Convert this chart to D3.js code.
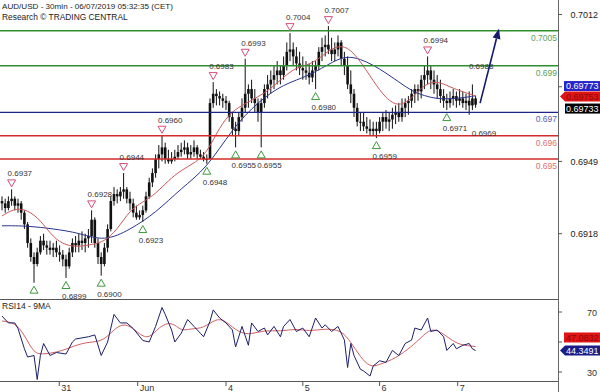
<!DOCTYPE html>
<html>
<head>
<meta charset="utf-8">
<script src="https://cdn.jsdelivr.net/npm/d3@7"></script>
<style>
  body { margin: 0; background: #fff; }
  svg { display: block; font-family: "Liberation Sans", Arial, sans-serif; }
</style>
</head>
<body>
<script>
// ---- data (hourly-ish bars) ----
const firstOpen = 0.6932;
const highs = [
  0.6934,0.6933,0.6934,0.6937,0.6934,0.6933,0.6932,0.6928,0.6923,0.6916,
  0.6910,0.6912,0.6917,0.6918,0.6915,0.6915,0.6914,0.6915,0.6913,0.6911,
  0.6909,0.6912,0.6916,0.6917,0.6918,0.6919,0.6918,0.6920,0.6928,0.6925,
  0.6916,0.6910,0.6914,0.6922,0.6934,0.6938,0.6937,0.6938,0.6944,0.6938,
  0.6936,0.6933,0.6930,0.6928,0.6930,0.6936,0.6942,0.6946,0.6952,0.6956,
  0.6960,0.6957,0.6954,0.6953,0.6954,0.6956,0.6957,0.6958,0.6957,0.6956,
  0.6958,0.6956,0.6954,0.6953,0.6952,0.6976,0.6983,0.6980,0.6979,0.6978,
  0.6977,0.6975,0.6970,0.6966,0.6970,0.6976,0.6993,0.6982,0.6984,0.6980,
  0.6976,0.6976,0.6982,0.6986,0.6988,0.6990,0.6992,0.6990,0.6994,0.7000,
  0.7004,0.7000,0.6998,0.6996,0.6994,0.6992,0.6991,0.6992,0.6992,0.6998,
  0.7002,0.7003,0.7007,0.7002,0.7000,0.7003,0.7001,0.6996,0.6994,0.6988,
  0.6980,0.6974,0.6970,0.6970,0.6968,0.6967,0.6966,0.6966,0.6968,0.6970,
  0.6971,0.6970,0.6972,0.6973,0.6974,0.6976,0.6976,0.6977,0.6980,0.6982,
  0.6982,0.6986,0.6990,0.6994,0.6990,0.6988,0.6986,0.6984,0.6980,0.6978,
  0.6979,0.6980,0.6979,0.6980,0.6979,0.6978,0.6979,0.6982,0.6977
];
const lows = [
  0.6928,0.6927,0.6928,0.6930,0.6928,0.6927,0.6924,0.6920,0.6912,0.6906,
  0.6897,0.6904,0.6909,0.6911,0.6909,0.6909,0.6908,0.6908,0.6906,0.6904,
  0.6899,0.6903,0.6908,0.6910,0.6910,0.6911,0.6910,0.6912,0.6914,0.6912,
  0.6905,0.6900,0.6904,0.6910,0.6919,0.6930,0.6931,0.6932,0.6933,0.6931,
  0.6928,0.6925,0.6924,0.6924,0.6923,0.6927,0.6933,0.6938,0.6942,0.6946,
  0.6949,0.6948,0.6948,0.6948,0.6949,0.6950,0.6951,0.6952,0.6950,0.6950,
  0.6951,0.6950,0.6950,0.6949,0.6948,0.6950,0.6972,0.6973,0.6973,0.6972,
  0.6971,0.6966,0.6960,0.6955,0.6960,0.6966,0.6970,0.6972,0.6974,0.6970,
  0.6966,0.6955,0.6972,0.6976,0.6978,0.6980,0.6982,0.6982,0.6984,0.6988,
  0.6992,0.6990,0.6988,0.6986,0.6984,0.6984,0.6982,0.6983,0.6980,0.6988,
  0.6992,0.6994,0.6995,0.6992,0.6992,0.6994,0.6990,0.6986,0.6980,0.6974,
  0.6968,0.6964,0.6962,0.6962,0.6961,0.6960,0.6960,0.6959,0.6961,0.6962,
  0.6963,0.6962,0.6963,0.6965,0.6966,0.6966,0.6968,0.6969,0.6972,0.6974,
  0.6975,0.6976,0.6980,0.6982,0.6980,0.6978,0.6976,0.6974,0.6972,0.6971,
  0.6972,0.6973,0.6972,0.6973,0.6972,0.6971,0.6969,0.6971,0.6972
];
const closes = [
  0.6931,0.6929,0.6932,0.6933,0.6930,0.6931,0.6927,0.6922,0.6914,0.6908,
  0.6905,0.6910,0.6915,0.6913,0.6912,0.6911,0.6912,0.6910,0.6909,0.6907,
  0.6904,0.6910,0.6914,0.6913,0.6915,0.6914,0.6916,0.6917,0.6924,0.6914,
  0.6908,0.6905,0.6912,0.6920,0.6932,0.6935,0.6934,0.6936,0.6937,0.6933,
  0.6931,0.6927,0.6925,0.6926,0.6928,0.6934,0.6940,0.6944,0.6950,0.6952,
  0.6955,0.6950,0.6949,0.6950,0.6951,0.6953,0.6954,0.6955,0.6952,0.6953,
  0.6955,0.6952,0.6951,0.6950,0.6950,0.6974,0.6978,0.6977,0.6976,0.6975,
  0.6974,0.6968,0.6963,0.6962,0.6968,0.6972,0.6978,0.6980,0.6976,0.6974,
  0.6970,0.6974,0.6980,0.6982,0.6984,0.6986,0.6988,0.6986,0.6990,0.6996,
  0.6997,0.6994,0.6991,0.6989,0.6988,0.6987,0.6985,0.6988,0.6990,0.6996,
  0.6998,0.6999,0.6997,0.6995,0.6997,0.7000,0.6993,0.6990,0.6982,0.6978,
  0.6972,0.6966,0.6966,0.6964,0.6963,0.6962,0.6963,0.6962,0.6966,0.6968,
  0.6966,0.6967,0.6969,0.6970,0.6968,0.6972,0.6974,0.6975,0.6978,0.6980,
  0.6979,0.6984,0.6986,0.6988,0.6984,0.6982,0.6980,0.6977,0.6975,0.6974,
  0.6976,0.6977,0.6975,0.6976,0.6974,0.6975,0.6973,0.6976,0.69733
];

// moving averages (bar index, value)
const redMA = [
  [0,0.69256],[4,0.6929],[8,0.69282],[12,0.69239],[16,0.69163],[20,0.69129],[24,0.69124],
  [28,0.69133],[32,0.69146],[36,0.69197],[40,0.69282],[44,0.69316],[48,0.6935],[52,0.69409],
  [56,0.69452],[60,0.69482],[64,0.69524],[68,0.69639],[72,0.69707],[76,0.69737],[80,0.69767],
  [84,0.69801],[88,0.69852],[92,0.69894],[96,0.69903],[100,0.69941],[104,0.69984],[108,0.69984],
  [112,0.6992],[116,0.69835],[120,0.69758],[124,0.69724],[128,0.69758],[132,0.69822],
  [136,0.69835],[140,0.69809],[144,0.69788],[148,0.69771]
];
const blueMA = [
  [0,0.69214],[8,0.69214],[16,0.69201],[24,0.69184],[32,0.69146],[40,0.69197],[48,0.69269],
  [56,0.69375],[64,0.6946],[72,0.69631],[80,0.69746],[88,0.69822],[96,0.69856],[104,0.69924],
  [108,0.69941],[112,0.69929],[116,0.69903],[120,0.69869],[124,0.69831],[128,0.69792],
  [132,0.69771],[136,0.69758],[140,0.69758],[144,0.69763],[148,0.69771]
];

// RSI14 and its 9MA (bar index, value)
const rsi = [
  [0,67.3],[2,62.7],[4,62.7],[5,59],[7,45.5],[8,40],[10,41],[11,25],[12,41],[13,49],[15,41],
  [17,43],[20,42],[22,50],[23,52],[27,53.5],[29,54.7],[31,41],[33,50],[35,68.4],[37,62.7],
  [39,62.7],[41,59],[44,51],[46,50],[48,60.4],[50,73],[51,68.4],[53,58],[54,50],[56,55.8],
  [58,65],[60,60.4],[62,55.8],[63,53.5],[65,63.8],[66,71.4],[68,66],[70,62.7],[72,58],
  [73,46.7],[75,60.4],[77,47.8],[78,62.7],[80,57],[82,59.3],[83,54.7],[85,60.4],[87,53.5],
  [88,60.4],[90,65],[92,57],[94,59.3],[96,53.5],[98,66],[100,59.3],[101,61.5],[103,57],
  [105,60.4],[107,51.3],[108,33],[109,49],[110,41],[112,31.8],[113,30.7],[115,27.3],[116,34],
  [118,37.5],[120,36.4],[122,44.4],[124,41],[126,49],[128,51.3],[129,59.3],[131,58],[133,66],
  [134,57],[136,58],[138,53.5],[139,44.4],[141,49],[142,45.5],[144,47.8],[146,49],[147,45.5],
  [148,44.35]
];
const rsiMA = [
  [0,64],[4,63],[7,55],[10,42],[13,42],[17,43],[21,46],[26,50],[31,50],[34,56],[37,62],
  [40,61],[43,55],[46,52],[49,60],[53,64],[56,57],[59,59],[63,59],[67,66],[70,64],[74,56],
  [78,55],[82,58],[87,57],[92,59],[96,57],[101,59],[106,58],[109,50],[112,40],[115,33],
  [118,35],[123,39],[128,47],[131,53],[134,59],[137,57],[140,52],[143,48],[148,47]
];

// key levels
const levelValues = [0.7005, 0.699, 0.697, 0.696, 0.695];
const levelLabels = ['0.7005', '0.699', '0.697', '0.696', '0.695'];
const levelKinds = ['res', 'res', 'pivot', 'sup', 'sup'];

// swing points (bar index)
const pivotHighBars = [3, 28, 38, 50, 66, 76, 90, 102, 133];
const pivotLowBars = [10, 20, 31, 44, 64, 73, 81, 98, 117, 139];
// open swing (last bars, label only)
const openHigh = 0.6988, openHighBar = 145.9;
const openLowBar = 146.8;

// arrow (bar index, price)
const arrowFrom = [149.4, 0.6974];
const arrowTo = [155.3, 0.7005];

// axes
const priceTicks = [0.7012, 0.6981, 0.6949, 0.6918];
const priceTickLabels = ['0.7012', '', '0.6949', '0.6918'];
const rsiTicks = [70, 50, 30];
const rsiTickLabels = ['70', '', '30'];
const dayStarts = [17.9, 42.4, 70, 94, 118, 142.4];
const dayLabels = ['31', 'Jun', '4', '5', '6', '7'];

// last quotes
const quoteBlue = '0.69773', quoteRed = '0.69753', quoteBlack = '0.69733';
const lastPrice = 0.69753;
const rsiLast = 44.3491, rsiMALast = '47.0832';

// ---- chart ----
const W = 600, H = 392;
const axisX = 558;
const mainBottom = 299, rsiBottom = 381;

const svg = d3.select('body').append('svg')
    .attr('width', W)
    .attr('height', H);

const x = d3.scaleLinear().domain([0, 174]).range([2, 558.8]);
const y = d3.scaleLinear().domain([0.6890, 0.70182]).range([mainBottom, 0]);
const yR = d3.scaleLinear().domain([30, 70]).range([372, 312]);

svg.append('clipPath').attr('id', 'clipMain')
    .append('rect').attr('x', 0).attr('y', 0).attr('width', axisX).attr('height', mainBottom);
svg.append('clipPath').attr('id', 'clipRsi')
    .append('rect').attr('x', 0).attr('y', mainBottom).attr('width', axisX).attr('height', rsiBottom - mainBottom);

const main = svg.append('g').attr('clip-path', 'url(#clipMain)');

// bars
const bars = closes.map((c, i) => ({ i, o: i ? closes[i - 1] : firstOpen, h: highs[i], l: lows[i], c }));

main.selectAll('line.wick')
    .data(bars)
    .join('line')
    .attr('class', 'wick')
    .attr('x1', d => x(d.i)).attr('x2', d => x(d.i))
    .attr('y1', d => y(d.h)).attr('y2', d => y(d.l))
    .attr('stroke', '#111')
    .attr('stroke-width', 1);

main.selectAll('rect.body')
    .data(bars)
    .join('rect')
    .attr('class', 'body')
    .attr('x', d => x(d.i) - 1.3)
    .attr('width', 2.6)
    .attr('y', d => y(Math.max(d.o, d.c)))
    .attr('height', d => Math.max(1, Math.abs(y(d.o) - y(d.c))))
    .attr('fill', '#111');

// moving averages
const maLine = d3.line().x(d => x(d[0])).y(d => y(d[1])).curve(d3.curveBasis);
main.append('path').attr('d', maLine(blueMA))
    .attr('fill', 'none').attr('stroke', '#2a3590').attr('stroke-width', 1);
main.append('path').attr('d', maLine(redMA))
    .attr('fill', 'none').attr('stroke', '#cc5a5a').attr('stroke-width', 1);

// levels
const levelColor = { res: '#2f8f2f', pivot: '#1c2488', sup: '#d42a2a' };
const levelText = { res: '#5aa05a', pivot: '#5a5ab0', sup: '#e07070' };

main.selectAll('line.level')
    .data(levelValues)
    .join('line')
    .attr('x1', 0).attr('x2', axisX)
    .attr('y1', d => y(d)).attr('y2', d => y(d))
    .attr('stroke', (d, i) => levelColor[levelKinds[i]])
    .attr('stroke-width', 1.4);

main.selectAll('text.level')
    .data(levelValues)
    .join('text')
    .attr('x', axisX - 1)
    .attr('y', d => y(d) + 10)
    .attr('text-anchor', 'end')
    .attr('font-size', 8.5)
    .attr('fill', (d, i) => levelText[levelKinds[i]])
    .text((d, i) => levelLabels[i]);

// swing highs / lows
const tri = 4;
main.selectAll('path.hi')
    .data(pivotHighBars)
    .join('path')
    .attr('d', i => {
        const cx = x(i), b = y(highs[i]) - 2.5;
        return `M${cx - tri},${b - 7}L${cx + tri},${b - 7}L${cx},${b}Z`;
    })
    .attr('fill', '#fff')
    .attr('stroke', '#d4507a')
    .attr('stroke-width', 1);

main.selectAll('text.hi')
    .data(pivotHighBars)
    .join('text')
    .attr('x', i => x(i) - 4)
    .attr('y', i => y(highs[i]) - 13)
    .attr('font-size', 8)
    .attr('fill', '#333')
    .text(i => highs[i].toFixed(4));

main.selectAll('path.lo')
    .data(pivotLowBars)
    .join('path')
    .attr('d', i => {
        const cx = x(i), t = y(lows[i]) + 3.5;
        return `M${cx - tri},${t + 7}L${cx + tri},${t + 7}L${cx},${t}Z`;
    })
    .attr('fill', '#fff')
    .attr('stroke', '#3d9a3d')
    .attr('stroke-width', 1);

// labels that would fall under the RSI divider are not shown
main.selectAll('text.lo')
    .data(pivotLowBars.filter(i => y(lows[i]) + 21 <= mainBottom + 1))
    .join('text')
    .attr('x', i => x(i) - 4)
    .attr('y', i => y(lows[i]) + 21)
    .attr('font-size', 8)
    .attr('fill', '#333')
    .text(i => lows[i].toFixed(4));

main.append('text')
    .attr('x', x(openHighBar)).attr('y', y(openHigh) - 1)
    .attr('font-size', 8).attr('fill', '#333')
    .text(openHigh.toFixed(4));
main.append('text')
    .attr('x', x(openLowBar)).attr('y', y(lows[146]) + 21)
    .attr('font-size', 8).attr('fill', '#333')
    .text(lows[146].toFixed(4));

// arrow
const ax1 = x(arrowFrom[0]), ay1 = y(arrowFrom[1]);
const ax2 = x(arrowTo[0]), ay2 = y(arrowTo[1]) - 2;
const ang = Math.atan2(ay2 - ay1, ax2 - ax1);
const headLen = 10, headW = 4;
const bx = ax2 - headLen * Math.cos(ang), by = ay2 - headLen * Math.sin(ang);
svg.append('line')
    .attr('x1', ax1).attr('y1', ay1).attr('x2', bx).attr('y2', by)
    .attr('stroke', '#141a6e').attr('stroke-width', 1.6);
svg.append('path')
    .attr('d', `M${ax2},${ay2}L${bx + headW * Math.sin(ang)},${by - headW * Math.cos(ang)}L${bx - headW * Math.sin(ang)},${by + headW * Math.cos(ang)}Z`)
    .attr('fill', '#141a6e');

// titles
svg.append('text').attr('x', 2).attr('y', 9)
    .attr('font-size', 8.1).attr('fill', '#222')
    .text('AUD/USD - 30min - 06/07/2019 05:32:35 (CET)');
svg.append('text').attr('x', 2).attr('y', 20)
    .attr('font-size', 8.4).attr('fill', '#222')
    .text('Research \u00A9 TRADING CENTRAL');

// RSI panel
const rsiG = svg.append('g').attr('clip-path', 'url(#clipRsi)');
const rsiLine = d3.line().x(d => x(d[0])).y(d => yR(d[1]));
rsiG.append('path').attr('d', rsiLine.curve(d3.curveBasis)(rsiMA))
    .attr('fill', 'none').attr('stroke', '#d06060').attr('stroke-width', 1);
rsiG.append('path').attr('d', rsiLine.curve(d3.curveLinear)(rsi))
    .attr('fill', 'none').attr('stroke', '#1c1f6a').attr('stroke-width', 1);

svg.append('text').attr('x', 2).attr('y', 309)
    .attr('font-size', 8.5).attr('fill', '#222')
    .text('RSI14 - 9MA');

// frame lines
svg.append('line').attr('x1', 0).attr('x2', axisX).attr('y1', mainBottom + 0.5).attr('y2', mainBottom + 0.5)
    .attr('stroke', '#555').attr('stroke-width', 1);
svg.append('line').attr('x1', 0).attr('x2', axisX).attr('y1', rsiBottom + 0.5).attr('y2', rsiBottom + 0.5)
    .attr('stroke', '#555').attr('stroke-width', 1);
svg.append('line').attr('x1', axisX + 0.5).attr('x2', axisX + 0.5).attr('y1', 0).attr('y2', H)
    .attr('stroke', '#666').attr('stroke-width', 1);

// price axis
svg.selectAll('line.pt').data(priceTicks).join('line')
    .attr('x1', axisX).attr('x2', axisX + 4)
    .attr('y1', d => y(d)).attr('y2', d => y(d))
    .attr('stroke', '#555');
svg.selectAll('text.pt').data(priceTicks.filter((d, i) => priceTickLabels[i])).join('text')
    .attr('x', 598).attr('y', d => y(d) + 3.5)
    .attr('text-anchor', 'end').attr('font-size', 9).attr('fill', '#222')
    .text(d => priceTickLabels[priceTicks.indexOf(d)]);

// RSI axis
svg.selectAll('line.rt').data(rsiTicks).join('line')
    .attr('x1', axisX).attr('x2', axisX + 4)
    .attr('y1', d => yR(d)).attr('y2', d => yR(d))
    .attr('stroke', '#555');
svg.selectAll('text.rt').data(rsiTicks.filter((d, i) => rsiTickLabels[i])).join('text')
    .attr('x', 597).attr('y', d => yR(d) + 3.5)
    .attr('text-anchor', 'end').attr('font-size', 9).attr('fill', '#333')
    .text(d => rsiTickLabels[rsiTicks.indexOf(d)]);

// time axis
svg.selectAll('line.dt').data(dayStarts).join('line')
    .attr('x1', d => x(d)).attr('x2', d => x(d))
    .attr('y1', rsiBottom + 1).attr('y2', rsiBottom + 5)
    .attr('stroke', '#555');
svg.selectAll('text.dt').data(dayStarts).join('text')
    .attr('x', d => x(d) + 2).attr('y', 391)
    .attr('font-size', 9).attr('fill', '#333')
    .text((d, i) => dayLabels[i]);

// quote boxes
const redC = y(lastPrice) - 3.5;
const blueC = redC - 10.5, blackC = redC + 12;
const boxH = 10;
svg.append('rect').attr('x', 564).attr('y', blueC - boxH / 2).attr('width', 36).attr('height', boxH)
    .attr('fill', '#2424c8');
svg.append('text').attr('x', 566).attr('y', blueC + 3.3).attr('font-size', 9).attr('fill', '#fff').text(quoteBlue);
svg.append('path')
    .attr('d', `M560,${redC}L565,${redC - boxH / 2}L600,${redC - boxH / 2}L600,${redC + boxH / 2}L565,${redC + boxH / 2}Z`)
    .attr('fill', '#e01414');
svg.append('text').attr('x', 566).attr('y', redC + 3.3).attr('font-size', 9).attr('fill', '#8a0a0a').text(quoteRed);
svg.append('rect').attr('x', 565).attr('y', blackC - boxH / 2).attr('width', 35).attr('height', boxH)
    .attr('fill', '#000');
svg.append('text').attr('x', 566).attr('y', blackC + 3.3).attr('font-size', 9).attr('fill', '#fff').text(quoteBlack);

const rsiC = yR(rsiLast), rsiMAC = rsiC - 13;
svg.append('rect').attr('x', 564).attr('y', rsiMAC - boxH / 2).attr('width', 36).attr('height', boxH)
    .attr('fill', '#e01414');
svg.append('text').attr('x', 566).attr('y', rsiMAC + 3.3).attr('font-size', 9).attr('fill', '#8a0a0a').text(rsiMALast);
svg.append('path')
    .attr('d', `M560,${rsiC}L565,${rsiC - boxH / 2}L600,${rsiC - boxH / 2}L600,${rsiC + boxH / 2}L565,${rsiC + boxH / 2}Z`)
    .attr('fill', '#1c1c86');
svg.append('text').attr('x', 566).attr('y', rsiC + 3.3).attr('font-size', 9).attr('fill', '#fff').text(rsiLast.toFixed(4));
</script>
</body>
</html>
